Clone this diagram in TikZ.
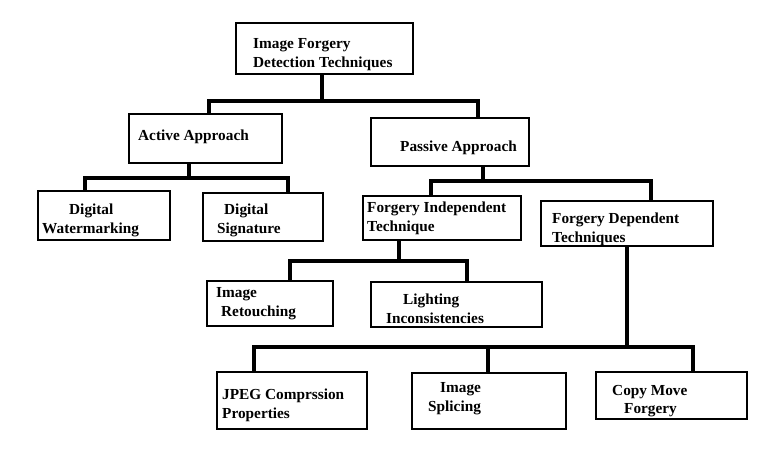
\documentclass[tikz,border=0pt]{standalone}
\usepackage{fontspec}
\setmainfont{Liberation Serif}

\tikzset{
  box/.style={draw, line width=1.1pt, inner sep=0pt},
  txt/.style={anchor=base west, inner sep=0pt, font=\fontsize{15.3}{19}\selectfont\bfseries},
  conn/.style={line width=3.8pt}
}

\begin{document}
\begin{tikzpicture}[x=1pt, y=-1pt]
  \useasboundingbox (0,0) rectangle (772,453);

  % Boxes
  \node[box, minimum width=177pt, minimum height=51pt] (root) at (324.5,48.5) {};
  \node[box, minimum width=153pt, minimum height=49pt] (active) at (205.5,138.5) {};
  \node[box, minimum width=158pt, minimum height=48pt] (passive) at (450,142) {};
  \node[box, minimum width=132pt, minimum height=49pt] (watermark) at (104,215.5) {};
  \node[box, minimum width=120pt, minimum height=48pt] (signature) at (263,217) {};
  \node[box, minimum width=158pt, minimum height=44pt] (indep) at (442,218) {};
  \node[box, minimum width=172pt, minimum height=45pt] (dep) at (627,223.5) {};
  \node[box, minimum width=126pt, minimum height=45pt] (retouch) at (270,303.5) {};
  \node[box, minimum width=171pt, minimum height=45pt] (lighting) at (456.5,304.5) {};
  \node[box, minimum width=150pt, minimum height=57pt] (jpeg) at (292,400.5) {};
  \node[box, minimum width=154pt, minimum height=56pt] (splicing) at (489,401) {};
  \node[box, minimum width=151pt, minimum height=47pt] (copymove) at (671.5,395.5) {};

  % Labels
  \node[txt] (root-a) at (253,48) {Image Forgery};
  \node[txt] (root-b) at (253,67) {Detection Techniques};
  \node[txt] (active-a) at (138,140) {Active Approach};
  \node[txt] (passive-a) at (400,151) {Passive Approach};
  \node[txt] (watermark-a) at (69,214) {Digital};
  \node[txt] (watermark-b) at (42,233) {Watermarking};
  \node[txt] (signature-a) at (224,214) {Digital};
  \node[txt] (signature-b) at (217,233) {Signature};
  \node[txt] (indep-a) at (367,212) {Forgery Independent};
  \node[txt] (indep-b) at (367,231) {Technique};
  \node[txt] (dep-a) at (552,223) {Forgery Dependent};
  \node[txt] (dep-b) at (552,242) {Techniques};
  \node[txt] (retouch-a) at (216,297) {Image};
  \node[txt] (retouch-b) at (221,316) {Retouching};
  \node[txt] (lighting-a) at (403,304) {Lighting};
  \node[txt] (lighting-b) at (386,323) {Inconsistencies};
  \node[txt] (jpeg-a) at (222,399) {JPEG Comprssion};
  \node[txt] (jpeg-b) at (222,418) {Properties};
  \node[txt] (splicing-a) at (440,392) {Image};
  \node[txt] (splicing-b) at (428,411) {Splicing};
  \node[txt] (copymove-a) at (612,395) {Copy Move};
  \node[txt] (copymove-b) at (624,413) {Forgery};

  % Bar points
  \coordinate (rb) at (322,101);
  \coordinate (rbl) at (209,101);
  \coordinate (rbr) at (478,101);
  \coordinate (ab) at (189,178);
  \coordinate (abl) at (85,178);
  \coordinate (abr) at (288,178);
  \coordinate (pb) at (483,181);
  \coordinate (pbl) at (431,181);
  \coordinate (pbr) at (651,181);
  \coordinate (ib) at (399,261);
  \coordinate (ibl) at (290,261);
  \coordinate (ibr) at (467,261);
  \coordinate (db) at (627,347);
  \coordinate (dbl) at (254,347);
  \coordinate (dbm) at (488,347);
  \coordinate (dbr) at (693,347);

  % Connectors
  \draw[conn] (root.south -| rb) -- (rb);
  \draw[conn] (active.north -| rbl) -- (rbl) -- (rbr) -- (passive.north -| rbr);

  \draw[conn] (active.south -| ab) -- (ab);
  \draw[conn] (watermark.north -| abl) -- (abl) -- (abr) -- (signature.north -| abr);

  \draw[conn] (passive.south -| pb) -- (pb);
  \draw[conn] (indep.north -| pbl) -- (pbl) -- (pbr) -- (dep.north -| pbr);

  \draw[conn] (indep.south -| ib) -- (ib);
  \draw[conn] (retouch.north -| ibl) -- (ibl) -- (ibr) -- (lighting.north -| ibr);

  \draw[conn] (dep.south -| db) -- (db);
  \draw[conn] (jpeg.north -| dbl) -- (dbl) -- (dbr) -- (copymove.north -| dbr);
  \draw[conn] (splicing.north -| dbm) -- (dbm);
\end{tikzpicture}
\end{document}
